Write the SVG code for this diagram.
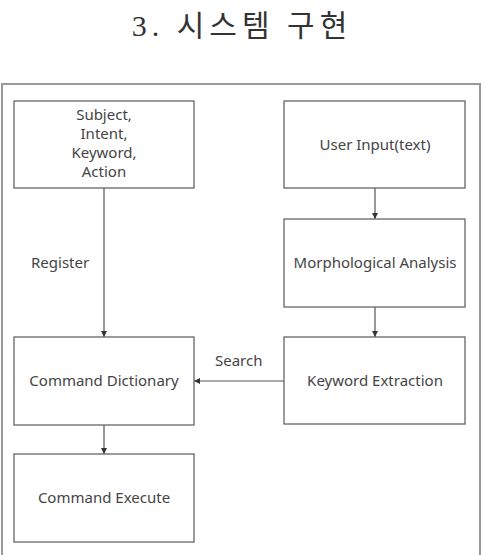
<svg xmlns="http://www.w3.org/2000/svg" width="484" height="555" viewBox="0 0 484 555">
<style>
.box{fill:#fff;stroke:#666;stroke-width:1.3}
.t{font-family:"Noto Sans","Open Sans",sans-serif;font-size:15px;fill:#444;text-anchor:middle}
.lbl{font-family:"Noto Sans","Open Sans",sans-serif;font-size:15px;fill:#444}
.c{stroke:#555;stroke-width:1.2;fill:none;marker-end:url(#ah)}
</style>
<defs>
<marker id="ah" viewBox="0 0 6 6" refX="6" refY="3" markerWidth="6" markerHeight="6" markerUnits="userSpaceOnUse" orient="auto">
<path d="M0,0 L6,3 L0,6 z" fill="#333"/>
</marker>
</defs>
<rect width="484" height="555" fill="#fff"/>
<text x="242" y="36" font-family="'Liberation Serif','Noto Sans CJK KR',serif" font-size="30" fill="#333" text-anchor="middle" letter-spacing="5">3. 시스템 구현</text>
<rect x="2" y="84" width="478" height="480" fill="none" stroke="#999" stroke-width="2"/>
<g id="connectors">
<line class="c" x1="104" y1="188" x2="104" y2="337"/>
<line class="c" x1="375" y1="188" x2="375" y2="219"/>
<line class="c" x1="375" y1="307" x2="375" y2="337"/>
<line class="c" x1="284" y1="381" x2="194" y2="381"/>
<line class="c" x1="104" y1="425" x2="104" y2="454"/>
<text class="lbl" x="31" y="268">Register</text>
<text class="lbl" x="215" y="366">Search</text>
</g>
<g id="n-subject">
<rect class="box" x="14" y="101" width="180" height="87"/>
<text class="t" x="104" y="120">Subject,</text>
<text class="t" x="104" y="139">Intent,</text>
<text class="t" x="104" y="158">Keyword,</text>
<text class="t" x="104" y="177">Action</text>
</g>
<g id="n-input">
<rect class="box" x="284" y="101" width="181" height="87"/>
<text class="t" x="375" y="150">User Input(text)</text>
</g>
<g id="n-morph">
<rect class="box" x="284" y="219" width="181" height="88"/>
<text class="t" x="375" y="268">Morphological Analysis</text>
</g>
<g id="n-extract">
<rect class="box" x="284" y="337" width="181" height="87"/>
<text class="t" x="375" y="386">Keyword Extraction</text>
</g>
<g id="n-dict">
<rect class="box" x="14" y="337" width="180" height="88"/>
<text class="t" x="104" y="386">Command Dictionary</text>
</g>
<g id="n-exec">
<rect class="box" x="14" y="454" width="180" height="88"/>
<text class="t" x="104" y="503">Command Execute</text>
</g>
</svg>
